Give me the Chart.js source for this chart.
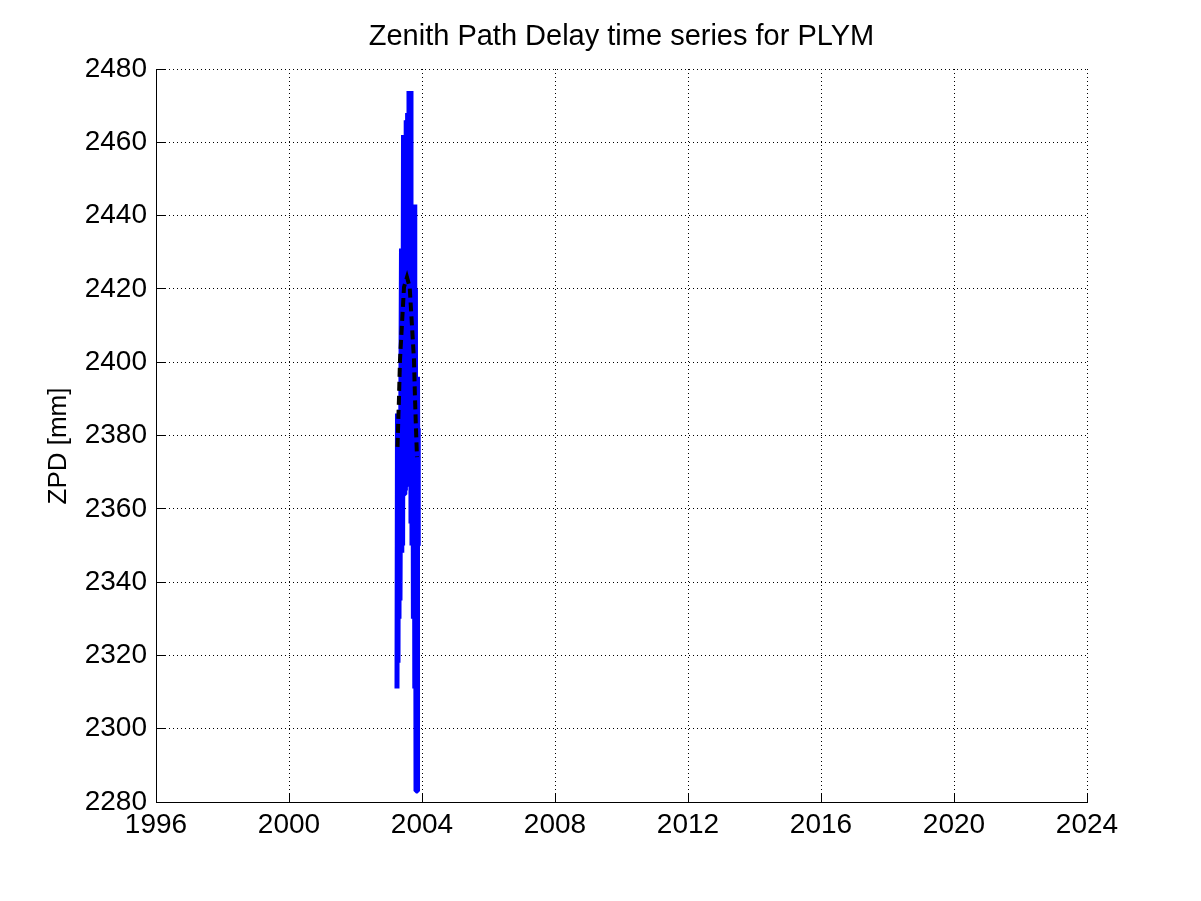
<!DOCTYPE html>
<html>
<head>
<meta charset="utf-8">
<title>Zenith Path Delay time series for PLYM</title>
<script src="https://cdn.jsdelivr.net/npm/chart.js@4.4.1/dist/chart.umd.min.js"></script>
<style>
  html, body { margin: 0; padding: 0; background: #fff; }
  canvas { display: block; }
</style>
</head>
<body>
<canvas id="zpdChart" width="1201" height="901"></canvas>
<script>
const chartTitle = 'Zenith Path Delay time series for PLYM';
const yAxisTitle = 'ZPD [mm]';

// tick positions
const xTickYears = [1996, 2000, 2004, 2008, 2012, 2016, 2020, 2024];
const yTickValues = [2280, 2300, 2320, 2340, 2360, 2380, 2400, 2420, 2440, 2460, 2480];

// ZPD series (decimal year, mm)
const zpdEpoch = [
  2003.248, 2003.263, 2003.278, 2003.293, 2003.308, 2003.323, 2003.338, 2003.383,
  2003.392, 2003.408, 2003.417, 2003.444, 2003.459, 2003.483, 2003.501, 2003.525,
  2003.543, 2003.567, 2003.585, 2003.609, 2003.627, 2003.657, 2003.669, 2003.687,
  2003.699, 2003.723, 2003.741, 2003.765, 2003.783, 2003.802, 2003.820, 2003.838,
  2003.850, 2003.865, 2003.880, 2003.886
];
const zpdValue = [
  2311, 2386, 2318, 2386, 2330, 2387, 2335, 2431,
  2348, 2431, 2350, 2462, 2364, 2462, 2365, 2466,
  2366, 2468, 2372, 2474, 2373, 2474, 2356, 2443,
  2350, 2443, 2330, 2443, 2311, 2420, 2283, 2396,
  2283, 2396, 2350, 2382
];

// smoothed curve (dashed)
const fitEpoch = [2003.263, 2003.278, 2003.308, 2003.338, 2003.459, 2003.549, 2003.630, 2003.759, 2003.789, 2003.820, 2003.850];
const fitValue = [2376.9, 2381.5, 2390.3, 2400.6, 2420.5, 2423.2, 2420.5, 2400.6, 2390.3, 2381.5, 2374.1];

const fontFamily = '"Liberation Sans", Arial, Helvetica, sans-serif';
Chart.defaults.font.family = fontFamily;
Chart.defaults.color = '#000';

const toPoints = (xs, ys) => xs.map((x, i) => ({ x: x, y: ys[i] }));

// matlab style ticks pointing into the plot (left + bottom only)
const innerTicks = {
  id: 'innerTicks',
  beforeDatasetsDraw(chart) {
    const { ctx, chartArea, scales: { x, y } } = chart;
    const align = p => Math.round(p - 0.5) + 0.5;
    ctx.save();
    ctx.strokeStyle = '#000';
    ctx.lineWidth = 1;
    ctx.beginPath();
    xTickYears.forEach(v => {
      const px = align(x.getPixelForValue(v));
      ctx.moveTo(px, chartArea.bottom);
      ctx.lineTo(px, chartArea.bottom - 9);
    });
    yTickValues.forEach(v => {
      const py = align(y.getPixelForValue(v));
      ctx.moveTo(chartArea.left, py);
      ctx.lineTo(chartArea.left + 9, py);
    });
    ctx.stroke();
    ctx.restore();
  }
};

// title centred over the axes, ylabel like matlab
const axesTitles = {
  id: 'axesTitles',
  afterDraw(chart) {
    const { ctx, chartArea } = chart;
    ctx.save();
    ctx.fillStyle = '#000';
    ctx.textAlign = 'center';
    ctx.textBaseline = 'middle';
    ctx.font = '29px ' + fontFamily;
    ctx.fillText(chartTitle, (chartArea.left + chartArea.right) / 2, 37);
    ctx.translate(59, 446);
    ctx.rotate(-Math.PI / 2);
    ctx.font = '26px ' + fontFamily;
    ctx.fillText(yAxisTitle, 0, 0);
    ctx.restore();
  }
};

new Chart(document.getElementById('zpdChart'), {
  type: 'line',
  data: {
    datasets: [
      {
        label: 'fit',
        data: toPoints(fitEpoch, fitValue),
        borderColor: '#000000',
        borderWidth: 4,
        borderDash: [9, 5],
        pointRadius: 0,
        tension: 0,
        order: 0
      },
      {
        label: 'ZPD',
        data: toPoints(zpdEpoch, zpdValue),
        borderColor: '#0000ff',
        borderWidth: 5,
        borderJoinStyle: 'bevel',
        pointRadius: 0,
        tension: 0,
        order: 1
      }
    ]
  },
  options: {
    responsive: false,
    devicePixelRatio: 1,
    animation: false,
    layout: { padding: { left: 0, right: 114, top: 69, bottom: 0 } },
    plugins: {
      legend: { display: false },
      tooltip: { enabled: false },
      title: { display: false }
    },
    scales: {
      x: {
        type: 'linear',
        min: 1996,
        max: 2024,
        afterFit: s => { s.height = 99; },
        afterBuildTicks: s => { s.ticks = xTickYears.map(v => ({ value: v })); },
        ticks: {
          font: { size: 28 },
          color: '#000',
          padding: 6,
          maxRotation: 0,
          autoSkip: false,
          callback: v => String(v)
        },
        grid: { color: '#000', lineWidth: 1, drawTicks: false },
        border: { display: true, color: '#000', width: 1, dash: [1, 3] }
      },
      y: {
        type: 'linear',
        min: 2280,
        max: 2480,
        afterFit: s => { s.width = 156; },
        afterBuildTicks: s => { s.ticks = yTickValues.map(v => ({ value: v })); },
        ticks: {
          font: { size: 28 },
          color: '#000',
          padding: 9,
          autoSkip: false,
          callback: v => String(v)
        },
        grid: { color: '#000', lineWidth: 1, drawTicks: false },
        border: { display: true, color: '#000', width: 1, dash: [1, 3] }
      }
    }
  },
  plugins: [innerTicks, axesTitles]
});
</script>
</body>
</html>
